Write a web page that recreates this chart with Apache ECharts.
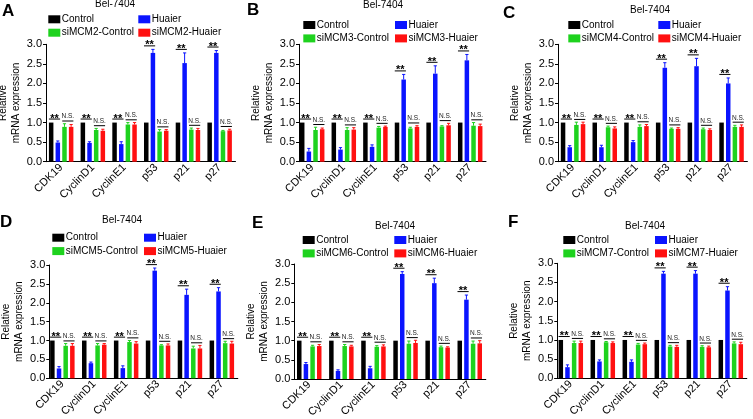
<!DOCTYPE html>
<html><head><meta charset="utf-8">
<script src="https://cdn.jsdelivr.net/npm/echarts@6/dist/echarts.min.js"></script>
<style>html,body{margin:0;padding:0;background:#fff}#c{width:753px;height:419px}</style>
</head><body><div id="c"></div>
<script>
// ---------------- data ----------------
const categories = ['CDK19', 'CyclinD1', 'CyclinE1', 'p53', 'p21', 'p27'];
const panelLetters = ['A', 'B', 'C', 'D', 'E', 'F'];
const knockdowns = ['siMCM2', 'siMCM3', 'siMCM4', 'siMCM5', 'siMCM6', 'siMCM7'];
const cellLine = 'Bel-7404';
const yAxisName = 'Relative\nmRNA expression';
const control = [1, 1, 1, 1, 1, 1];

const huaierA = [0.49, 0.48, 0.45, 2.78, 2.52, 2.78];
const huaierErrA = [0.04, 0.03, 0.06, 0.09, 0.26, 0.06];
const siCtrlA = [0.89, 0.81, 0.95, 0.77, 0.82, 0.78];
const siCtrlErrA = [0.08, 0.04, 0.05, 0.05, 0.04, 0.02];
const siHuaierA = [0.89, 0.79, 0.95, 0.79, 0.81, 0.80];
const siHuaierErrA = [0.06, 0.04, 0.05, 0.03, 0.04, 0.03];

const huaierB = [0.26, 0.31, 0.38, 2.10, 2.25, 2.59];
const huaierErrB = [0.08, 0.05, 0.05, 0.13, 0.20, 0.15];
const siCtrlB = [0.81, 0.81, 0.87, 0.85, 0.90, 0.92];
const siCtrlErrB = [0.07, 0.06, 0.03, 0.03, 0.02, 0.08];
const siHuaierB = [0.83, 0.82, 0.89, 0.89, 0.93, 0.91];
const siHuaierErrB = [0.03, 0.05, 0.02, 0.03, 0.05, 0.05];

const huaierC = [0.37, 0.37, 0.50, 2.40, 2.44, 2.00];
const huaierErrC = [0.04, 0.05, 0.04, 0.13, 0.20, 0.14];
const siCtrlC = [0.94, 0.88, 0.89, 0.84, 0.83, 0.89];
const siCtrlErrC = [0.07, 0.03, 0.05, 0.02, 0.03, 0.04];
const siHuaierC = [0.96, 0.85, 0.91, 0.84, 0.81, 0.89];
const siHuaierErrC = [0.05, 0.04, 0.04, 0.03, 0.03, 0.05];

const huaierD = [0.26, 0.40, 0.27, 2.85, 2.21, 2.30];
const huaierErrD = [0.05, 0.03, 0.06, 0.07, 0.15, 0.10];
const siCtrlD = [0.86, 0.87, 0.96, 0.87, 0.79, 0.93];
const siCtrlErrD = [0.06, 0.05, 0.04, 0.02, 0.06, 0.05];
const siHuaierD = [0.86, 0.89, 0.92, 0.87, 0.79, 0.92];
const siHuaierErrD = [0.06, 0.03, 0.05, 0.04, 0.08, 0.06];

const huaierE = [0.39, 0.21, 0.28, 2.74, 2.50, 2.07];
const huaierErrE = [0.04, 0.03, 0.05, 0.06, 0.13, 0.12];
const siCtrlE = [0.85, 0.86, 0.84, 0.92, 0.83, 0.92];
const siCtrlErrE = [0.03, 0.04, 0.03, 0.07, 0.03, 0.07];
const siHuaierE = [0.86, 0.85, 0.85, 0.94, 0.82, 0.93];
const siHuaierErrE = [0.04, 0.03, 0.04, 0.07, 0.02, 0.07];

const huaierF = [0.29, 0.44, 0.43, 2.73, 2.73, 2.29];
const huaierErrF = [0.06, 0.04, 0.05, 0.06, 0.08, 0.10];
const siCtrlF = [0.92, 0.94, 0.88, 0.83, 0.82, 0.91];
const siCtrlErrF = [0.05, 0.02, 0.03, 0.03, 0.03, 0.04];
const siHuaierF = [0.92, 0.92, 0.89, 0.82, 0.81, 0.89];
const siHuaierErrF = [0.05, 0.03, 0.03, 0.04, 0.03, 0.05];

const panelData = [
  [huaierA, huaierErrA, siCtrlA, siCtrlErrA, siHuaierA, siHuaierErrA],
  [huaierB, huaierErrB, siCtrlB, siCtrlErrB, siHuaierB, siHuaierErrB],
  [huaierC, huaierErrC, siCtrlC, siCtrlErrC, siHuaierC, siHuaierErrC],
  [huaierD, huaierErrD, siCtrlD, siCtrlErrD, siHuaierD, siHuaierErrD],
  [huaierE, huaierErrE, siCtrlE, siCtrlErrE, siHuaierE, siHuaierErrE],
  [huaierF, huaierErrF, siCtrlF, siCtrlErrF, siHuaierF, siHuaierErrF]
];

// ---------------- layout / style ----------------
const FONT = '"Liberation Sans", Arial, Helvetica, sans-serif';
const COLORS = ['#000000', '#0a14ff', '#1ed21e', '#ff1010'];
const BARW = 4.5, GAPR = 0.48, PITCH = BARW * (1 + GAPR);
// bs: band start, p: category pitch, ax: y-axis x, t: y of 3.0, b: y of 0
const layouts = [
  {bs: 45.3, p: 31.7, ax: 46.0, t: 44.3, b: 161.7, gap: 19.5, title: [95, 4], letter: [2, 3], col1: 48.3, col2: 138.3, row: 19.3},
  {bs: 296.4, p: 31.6, ax: 299.0, t: 44.3, b: 161.7, gap: 21, title: [363, 5.5], letter: [247, 2], col1: 303.3, col2: 395, row: 25},
  {bs: 557.2, p: 31.7, ax: 558.0, t: 44.3, b: 161.7, gap: 18.5, title: [630, 10], letter: [503, 5], col1: 568.3, col2: 658.3, row: 25},
  {bs: 46.4, p: 31.9, ax: 49.3, t: 265.0, b: 378.3, gap: 23, title: [102, 220], letter: [0, 214], col1: 52.3, col2: 144, row: 237.7},
  {bs: 293.2, p: 32.1, ax: 294.3, t: 264.0, b: 379.0, gap: 21, title: [375, 226.7], letter: [252, 215], col1: 302.7, col2: 394.3, row: 240},
  {bs: 554.8, p: 32.0, ax: 557.3, t: 263.3, b: 378.3, gap: 21, title: [625, 226.7], letter: [508, 214], col1: 563.3, col2: 655, row: 240}
];

function errRender(params, api) {
  const cat = api.value(0), g = api.value(1), v = api.value(2), e = api.value(3);
  const base = api.coord([cat, v]);
  const top = api.coord([cat, v + e]);
  const x = base[0] + (g - 1.5) * PITCH;
  const c = COLORS[g];
  return {type: 'group', children: [
    {type: 'line', shape: {x1: x, y1: base[1], x2: x, y2: top[1]}, style: {stroke: c, lineWidth: 1}},
    {type: 'line', shape: {x1: x - 1.6, y1: top[1], x2: x + 1.6, y2: top[1]}, style: {stroke: c, lineWidth: 1}}
  ]};
}

function annRender(params, api) {
  const cat = api.value(0), s = api.value(1), n = api.value(2);
  const cs = api.coord([cat, s]);
  const cn = api.coord([cat, n]);
  const hw = BARW / 2;
  const x0 = cs[0] - 1.5 * PITCH - hw, x1 = cs[0] - 0.5 * PITCH + hw;
  const x2 = cs[0] + 0.5 * PITCH - hw, x3 = cs[0] + 1.5 * PITCH + hw;
  return {type: 'group', children: [
    {type: 'line', shape: {x1: x0, y1: cs[1], x2: x1, y2: cs[1]}, style: {stroke: '#000', lineWidth: 1}},
    {type: 'text', style: {text: '**', x: (x0 + x1) / 2, y: cs[1] - 0.5, align: 'center', verticalAlign: 'middle',
      fontSize: 11, fontWeight: 'bold', fontFamily: FONT, fill: '#000'}},
    {type: 'line', shape: {x1: x2, y1: cn[1], x2: x3, y2: cn[1]}, style: {stroke: '#000', lineWidth: 1}},
    {type: 'text', style: {text: 'N.S.', x: (x2 + x3) / 2, y: cn[1] - 4.3, align: 'center', verticalAlign: 'middle',
      fontSize: 6.5, fontFamily: FONT, fill: '#222'}}
  ]};
}

const option = {
  animation: false,
  backgroundColor: '#fff',
  title: [], legend: [], grid: [], xAxis: [], yAxis: [], series: []
};

layouts.forEach((L, i) => {
  const [hu, huE, sc, scE, sh, shE] = panelData[i];
  const kd = knockdowns[i];
  option.grid.push({left: L.bs, top: L.t, width: 6 * L.p, height: L.b - L.t, containLabel: false, outerBoundsMode: 'none'});
  option.xAxis.push({
    type: 'category', gridIndex: i, data: categories,
    axisLine: {lineStyle: {color: '#000', width: 1}},
    axisTick: {alignWithLabel: true, length: 3, lineStyle: {color: '#000'}},
    axisLabel: {rotate: 45, interval: 0, fontSize: 11, color: '#000', margin: 4, fontFamily: FONT}
  });
  option.yAxis.push({
    type: 'value', gridIndex: i, min: 0, max: 3, interval: 0.5, offset: L.bs - L.ax,
    name: yAxisName, nameLocation: 'middle', nameRotate: 90, nameGap: L.gap,
    nameTextStyle: {fontSize: 10, lineHeight: 13, color: '#000', fontFamily: FONT},
    axisLine: {show: true, lineStyle: {color: '#000', width: 1}},
    axisTick: {show: true, length: 3, lineStyle: {color: '#000'}},
    splitLine: {show: false},
    axisLabel: {fontSize: 11, color: '#000', margin: 4, fontFamily: FONT, formatter: v => v.toFixed(1)}
  });
  option.title.push({text: cellLine, left: L.title[0], top: L.title[1] - 6, padding: 0,
    textStyle: {fontSize: 10, fontWeight: 'normal', color: '#000', lineHeight: 12, fontFamily: FONT}});
  option.title.push({text: panelLetters[i], left: L.letter[0], top: L.letter[1], padding: 0,
    textStyle: {fontSize: 17, fontWeight: 'bold', color: '#000', fontFamily: FONT}});
  const legendBase = {orient: 'vertical', padding: 0, itemGap: 1.4, itemWidth: 12, itemHeight: 8, icon: 'rect',
    selectedMode: false, top: L.row - 6,
    textStyle: {fontSize: 10, color: '#000', lineHeight: 12, fontFamily: FONT, padding: [0, 0, 0, -3.5]}};
  option.legend.push(Object.assign({}, legendBase, {left: L.col1, data: ['Control', kd + '-Control']}));
  option.legend.push(Object.assign({}, legendBase, {left: L.col2, data: ['Huaier', kd + '-Huaier']}));

  const names = ['Control', 'Huaier', kd + '-Control', kd + '-Huaier'];
  const vals = [control, hu, sc, sh];
  names.forEach((nm, g) => {
    option.series.push({
      type: 'bar', name: nm, xAxisIndex: i, yAxisIndex: i, data: vals[g],
      barWidth: BARW, barGap: (GAPR * 100) + '%', itemStyle: {color: COLORS[g]}
    });
  });
  const errData = [];
  categories.forEach((c, j) => {
    errData.push([j, 1, hu[j], huE[j]]);
    errData.push([j, 2, sc[j], scE[j]]);
    errData.push([j, 3, sh[j], shE[j]]);
  });
  option.series.push({type: 'custom', name: 'err' + i, xAxisIndex: i, yAxisIndex: i, renderItem: errRender,
    encode: {x: 0, y: 2}, data: errData, z: 3, silent: true});
  const annData = categories.map((c, j) => [
    j,
    Math.max(control[j], hu[j] + huE[j]) + 0.09,
    Math.max(sc[j] + scE[j], sh[j] + shE[j]) + 0.07
  ]);
  option.series.push({type: 'custom', name: 'sig' + i, xAxisIndex: i, yAxisIndex: i, renderItem: annRender,
    encode: {x: 0, y: [1, 2]}, data: annData, z: 4, silent: true});
});

const chart = echarts.init(document.getElementById('c'), null, {renderer: 'canvas'});
chart.setOption(option);
</script>
</body></html>
